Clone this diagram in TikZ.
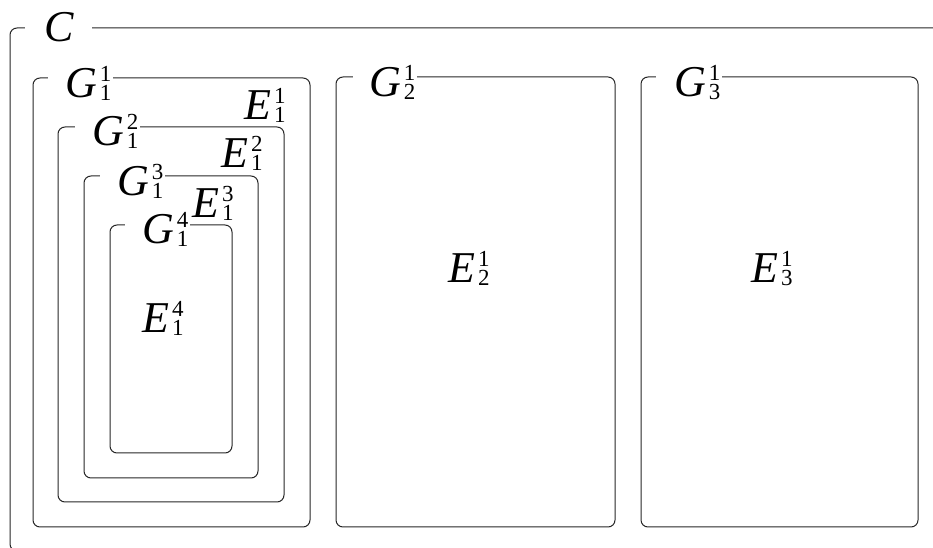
\documentclass[tikz,border=0pt]{standalone}
\usepackage{fontspec}
\setmainfont{Liberation Serif}
\newcommand\idx{\fontsize{23}{23}\selectfont}
% italic letter with stacked upright superscript and subscript
\newcommand\lab[3]{\textit{#1}\kern3pt\rlap{\raisebox{16pt}{\idx #2}}\raisebox{-3pt}{\idx #3}}
\begin{document}
\begin{tikzpicture}[x=1pt,y=1pt,
  frame/.style={draw=black!85, line width=1pt, rounded corners=7pt},
  glabel/.style={fill=white, inner xsep=0pt, inner ysep=3pt, anchor=base west,
    font=\fontsize{44}{48}\selectfont},
  elabel/.style={inner sep=0pt, anchor=base west, font=\fontsize{44}{48}\selectfont}]
\useasboundingbox (0,0) rectangle (933,548);
\begin{scope}
\clip (0,0) rectangle (933,548);
% outer set C
\draw[frame] (10,-3) rectangle (950,520);
% groups of the first family
\draw[frame] (33,21) rectangle (310,470);
\draw[frame] (58,46) rectangle (284,421);
\draw[frame] (84,70) rectangle (258,372);
\draw[frame] (110,95) rectangle (232,323);
% second and third groups
\draw[frame] (336,21) rectangle (615,471);
\draw[frame] (641,21) rectangle (918,471);
\end{scope}
% labels sitting on the frame lines
\node[glabel] (c) at (25,506) {\hspace*{19pt}\textit{C}\hspace*{18pt}};
\node[glabel] (g11) at (48,450) {\hspace*{17pt}\lab{G}{1}{1}\hspace*{2pt}};
\node[glabel] (g12) at (75,402) {\hspace*{17pt}\lab{G}{2}{1}\hspace*{2pt}};
\node[glabel] (g13) at (100,352) {\hspace*{17pt}\lab{G}{3}{1}\hspace*{2pt}};
\node[glabel] (g14) at (125,304) {\hspace*{17pt}\lab{G}{4}{1}\hspace*{2pt}};
\node[glabel] (g21) at (353,451) {\hspace*{16pt}\lab{G}{1}{2}\hspace*{2pt}};
\node[glabel] (g31) at (656,451) {\hspace*{18pt}\lab{G}{1}{3}\hspace*{2pt}};
% element labels
\node[elabel] (e11) at (244,428) {\lab{E}{1}{1}};
\node[elabel] (e12) at (221,380) {\lab{E}{2}{1}};
\node[elabel] (e13) at (192,330) {\lab{E}{3}{1}};
\node[elabel] (e14) at (142,215) {\lab{E}{4}{1}};
\node[elabel] (e21) at (448,265) {\lab{E}{1}{2}};
\node[elabel] (e31) at (751,265) {\lab{E}{1}{3}};
\end{tikzpicture}
\end{document}
